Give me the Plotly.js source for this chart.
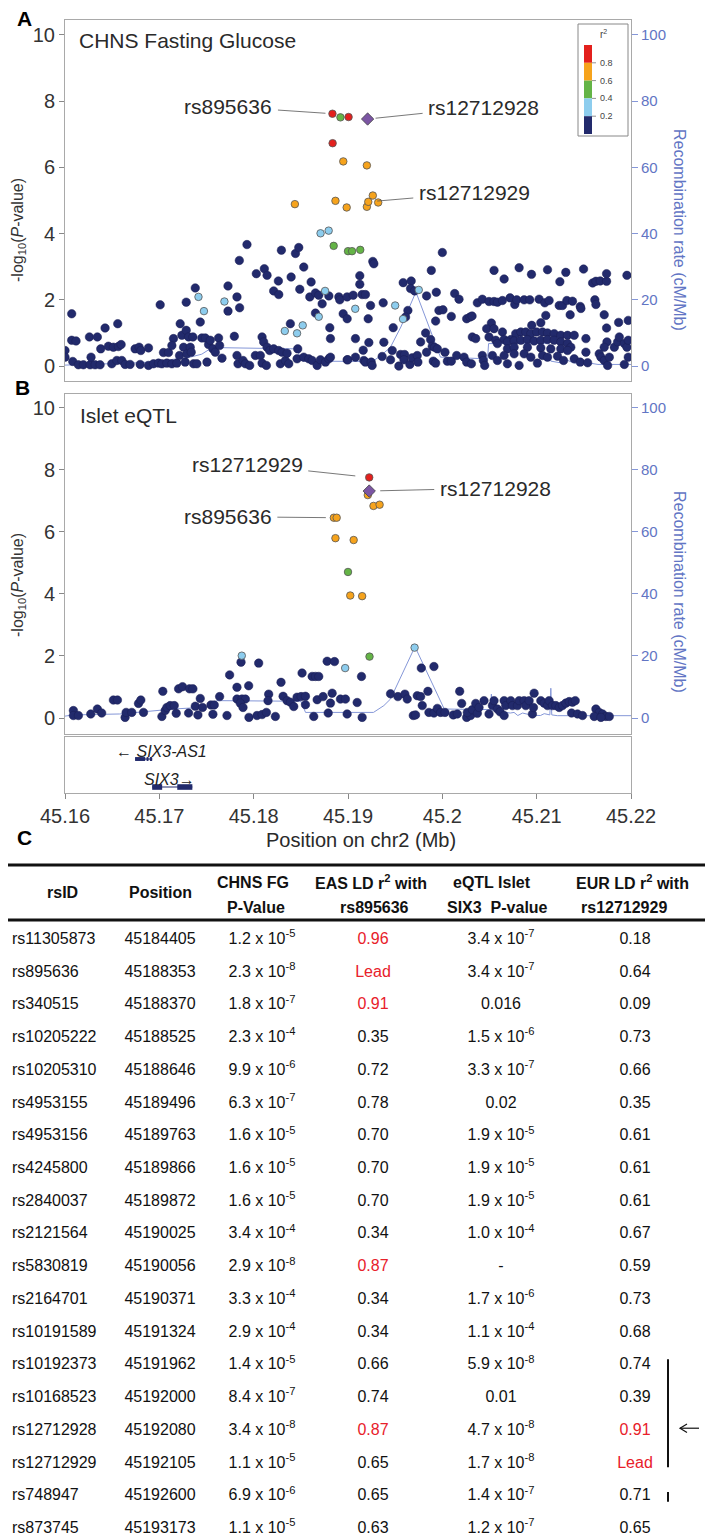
<!DOCTYPE html>
<html><head><meta charset="utf-8">
<script src="https://cdn.plot.ly/plotly-3.0.1.min.js"></script>
<style>html,body{margin:0;padding:0;background:#fff;}#chart{width:705px;height:1538px;}</style>
</head><body><div id="chart"></div>
<script>
// ---------------- Panel A: CHNS fasting glucose (r2 < 0.2 SNPs) ----------------
const fgNavyPos = [45.16000,45.16000,45.16071,45.16071,45.16117,45.16082,45.16142,45.16195,45.16266,45.16319,45.16372,45.16259,45.16343,45.16276,45.16379,45.16425,45.16460,45.16513,45.16566,45.16595,45.16496,45.16549,45.16602,45.16637,45.16559,45.16690,45.16743,45.16786,45.16804,45.16797,45.16885,45.16885,45.16938,45.16991,45.17009,45.17044,45.17097,45.17027,45.17080,45.17133,45.17150,45.17133,45.17186,45.17221,45.17214,45.17239,45.17257,45.17274,45.17285,45.17285,45.17292,45.17310,45.17328,45.17338,45.17356,45.17381,45.17363,45.17398,45.17434,45.17451,45.17487,45.17505,45.17522,45.17540,45.17568,45.17593,45.17628,45.17639,45.17664,45.17728,45.17728,45.17823,45.17851,45.17848,45.17929,45.17795,45.17823,45.17834,45.17887,45.17912,45.17958,45.18018,45.18071,45.18089,45.18106,45.18142,45.18170,45.18089,45.18135,45.18028,45.18113,45.18142,45.18212,45.18266,45.18262,45.18294,45.18443,45.18478,45.18531,45.18397,45.18489,45.18609,45.18212,45.18266,45.18301,45.18283,45.18336,45.18354,45.18372,45.18389,45.18467,45.18460,45.18531,45.18584,45.18620,45.18673,45.18708,45.18761,45.18797,45.18814,45.18595,45.18655,45.18690,45.18797,45.18726,45.18655,45.18807,45.18814,45.18903,45.18913,45.18949,45.18991,45.18991,45.18991,45.20000,45.19263,45.19274,45.19883,45.19125,45.19125,45.19585,45.19670,45.19663,45.19706,45.19833,45.19936,45.19055,45.19150,45.19185,45.20131,45.20177,45.19239,45.19373,45.19214,45.19635,45.19610,45.19479,45.19964,45.20007,45.19929,45.20095,45.20258,45.20293,45.20315,45.19079,45.19221,45.19380,45.19161,45.19469,45.18998,45.19079,45.19168,45.19185,45.19246,45.19256,45.19362,45.19451,45.19539,45.19557,45.19600,45.19593,45.19656,45.19681,45.19734,45.19741,45.19770,45.19823,45.19876,45.19893,45.19918,45.19947,45.19833,45.19904,45.19929,45.20028,45.20053,45.20095,45.20152,45.20230,45.20258,45.20308,45.20424,45.20435,45.20449,45.20318,45.20354,45.20371,45.20424,45.20495,45.20548,45.20584,45.20637,45.20718,45.20768,45.20789,45.20867,45.20927,45.21026,45.21086,45.21132,45.21239,45.21274,45.21320,45.21380,45.21462,45.21469,45.21617,45.21628,45.20548,45.20655,45.20814,45.20945,45.21115,45.21246,45.21309,45.21497,45.21593,45.21628,45.21674,45.21741,45.21741,45.21957,45.21097,45.21044,45.20948,45.21355,45.21716,45.21869,45.21971,45.20520,45.21741,45.20470,45.20548,45.20637,45.20495,45.20566,45.20655,45.20725,45.20778,45.20832,45.20885,45.20938,45.21001,45.21062,45.21115,45.21186,45.21256,45.21327,45.21398,45.20584,45.20690,45.20761,45.20832,45.20902,45.20973,45.21044,45.21115,45.21186,45.21256,45.21327,45.21362,45.20690,45.20761,45.20902,45.21044,45.21150,45.21256,45.21327,45.21522,45.21522,45.20531,45.20584,45.20655,45.20690,45.20761,45.20814,45.20867,45.20938,45.21008,45.21062,45.21115,45.21221,45.21285,45.21398,45.21462,45.21540,45.21663,45.21681,45.21716,45.21752,45.21770,45.21823,45.21858,45.21876,45.21929,45.21957,45.21971,45.21929,45.21971,45.21745,45.21716];
const fgNavyLogP = [0.47,0.27,1.58,0.78,0.76,0.14,0.04,0.04,0.04,0.04,0.04,0.88,0.88,0.27,0.52,1.15,0.60,0.57,0.59,0.65,0.07,0.17,0.17,0.05,1.28,0.05,0.52,0.57,0.47,0.05,0.55,0.02,0.07,0.09,1.85,0.41,0.41,0.07,0.09,0.07,0.83,0.62,0.09,1.28,0.32,0.93,0.57,0.12,1.08,1.93,0.37,0.88,0.57,0.42,0.88,2.36,0.07,0.07,1.33,0.85,0.85,0.12,0.65,0.78,0.52,0.42,0.85,0.62,0.24,2.42,1.66,2.09,1.76,3.19,3.67,0.90,0.32,0.07,0.17,0.07,0.02,0.32,0.32,0.88,0.73,0.57,0.47,0.09,0.02,2.79,2.94,2.74,2.27,2.16,2.57,3.50,3.40,3.58,2.99,2.69,2.32,2.54,0.52,0.47,0.42,0.07,0.17,0.39,0.07,1.28,0.52,0.22,0.27,0.22,0.17,0.02,0.19,0.12,0.22,0.27,2.09,2.21,2.14,2.12,1.88,1.60,1.16,0.83,2.09,2.00,1.58,1.43,2.09,0.19,3.43,3.16,3.09,2.89,2.73,2.47,2.52,2.57,2.34,2.27,2.12,2.23,2.14,2.16,2.16,2.19,2.02,1.83,1.91,1.43,1.68,1.48,1.16,1.68,1.70,1.36,1.50,1.43,1.48,1.51,0.83,0.71,0.72,0.48,0.47,0.19,0.27,0.17,0.12,0.12,0.02,0.29,0.19,0.00,0.35,0.35,0.19,0.05,0.25,0.32,0.12,0.73,1.00,0.80,0.60,0.57,0.52,0.42,0.15,0.09,0.42,0.15,0.15,0.32,0.27,0.12,0.07,0.32,0.17,0.02,0.88,0.83,1.91,2.02,1.95,1.95,1.93,1.98,2.06,1.86,2.00,2.00,2.00,2.02,1.91,1.98,1.83,1.83,1.98,1.96,1.80,1.74,2.00,1.86,2.89,2.63,2.97,2.77,2.91,2.55,2.83,2.93,2.51,2.56,2.57,2.56,2.79,2.74,1.53,1.31,1.23,1.55,1.55,1.32,1.38,1.30,1.15,1.13,1.13,1.03,0.88,0.78,0.80,0.80,0.98,1.03,1.03,0.98,1.03,1.03,1.00,0.98,0.93,0.93,0.93,0.68,0.73,0.76,0.78,0.80,0.76,0.78,0.80,0.78,0.73,0.68,0.57,0.52,0.57,0.57,0.55,0.52,0.52,0.47,0.83,0.42,0.32,0.17,0.32,0.07,0.37,0.02,0.37,0.27,0.09,0.32,0.27,0.30,0.17,0.22,0.12,0.10,0.37,0.27,0.17,0.02,0.27,0.57,0.73,0.88,0.68,0.57,0.78,0.05,0.27,0.73,0.57];
// Panel A: SNPs in LD with the index (bins: 1 = 0.2-0.4, 2 = 0.4-0.6, 3 = 0.6-0.8, 4 = >0.8)
const fgLDPos = [45.17415,45.17473,45.17690,45.18757,45.19077,45.19500,45.19583,45.19750,45.18330,45.18460,45.18520,45.18690,45.18709,45.18795,45.18848,45.19000,45.19043,45.19130,45.18920,45.18437,45.18867,45.18986,45.19200,45.19215,45.19263,45.19320,45.18950,45.19200,45.18835,45.19006,45.18837];
const fgLDLogP = [2.09,1.66,1.95,2.27,1.73,1.83,1.42,2.30,1.06,0.99,1.23,1.49,4.01,4.09,3.63,3.47,3.47,3.51,7.51,4.89,4.99,4.79,4.81,4.96,5.15,4.94,6.18,6.06,7.62,7.52,6.73];
const fgLDBin = [1,1,1,1,1,1,1,1,1,1,1,1,1,1,2,2,2,2,2,3,3,3,3,3,3,3,3,3,4,4,4];
const fgLeadPos = [45.19208];
const fgLeadLogP = [7.46];

// ---------------- Panel B: Islet eQTL ----------------
const eqNavyPos = [45.16089,45.16089,45.16142,45.16273,45.16343,45.16389,45.16513,45.16556,45.16637,45.16648,45.16708,45.16779,45.16804,45.16832,45.17037,45.17027,45.17062,45.17080,45.17115,45.17158,45.17179,45.17204,45.17246,45.17320,45.17356,45.17310,45.17381,45.17409,45.17434,45.17458,45.17547,45.17582,45.17568,45.17639,45.17717,45.17745,45.17823,45.17866,45.17823,45.17876,45.17912,45.17858,45.17887,45.17947,45.17950,45.18035,45.18089,45.18135,45.18230,45.18053,45.18159,45.18152,45.18290,45.18312,45.18354,45.18390,45.18425,45.18460,45.18503,45.18549,45.18549,45.18513,45.18620,45.18655,45.18690,45.18637,45.18673,45.18736,45.18779,45.18857,45.18790,45.18814,45.18832,45.18920,45.18973,45.18991,45.19097,45.19143,45.19150,45.19451,45.19529,45.19603,45.19628,45.19734,45.19770,45.19777,45.19911,45.19847,45.19787,45.19692,45.19716,45.19858,45.19911,45.19947,45.19982,45.20028,45.20116,45.20159,45.20184,45.20205,45.20258,45.20300,45.20265,45.20318,45.20354,45.20371,45.20389,45.20442,45.20495,45.20531,45.20548,45.20584,45.20612,45.20655,45.20655,45.20672,45.20725,45.20743,45.20796,45.20814,45.20867,45.20885,45.20920,45.20955,45.20973,45.20966,45.21044,45.21079,45.21115,45.21132,45.21168,45.21203,45.21239,45.21274,45.21309,45.21345,45.21380,45.21409,45.21370,45.21433,45.21486,45.21628,45.21663,45.21699,45.21734,45.21770,45.21610,45.21681];
const eqNavyLogP = [0.24,0.08,0.08,0.13,0.29,0.16,0.58,0.58,0.02,0.18,0.18,0.47,0.58,0.18,0.86,0.05,0.24,0.34,0.40,0.40,0.15,0.94,1.01,0.94,0.94,0.16,0.38,0.10,0.63,0.34,0.42,0.42,0.12,0.69,0.08,1.39,0.99,1.80,0.61,0.61,0.61,0.48,0.34,1.04,0.02,0.08,0.11,0.18,0.05,1.77,0.77,0.56,1.15,0.70,0.56,0.51,0.37,0.67,0.69,0.70,0.43,1.45,1.34,1.34,1.34,0.05,0.59,0.69,1.83,1.82,0.16,0.48,0.80,0.61,0.61,0.13,0.50,1.34,0.02,0.78,0.69,0.77,0.61,0.72,0.69,1.61,1.66,0.86,0.40,0.08,0.10,0.18,0.16,0.31,0.18,0.18,0.10,0.13,0.86,0.47,0.02,0.08,0.18,0.27,0.47,0.15,0.34,0.56,0.13,0.40,0.56,0.29,0.20,0.08,0.56,0.40,0.56,0.40,0.40,0.56,0.56,0.40,0.56,0.13,0.80,0.34,0.56,0.48,0.40,0.56,0.40,0.40,0.34,0.40,0.48,0.53,0.51,0.56,0.16,0.13,0.08,0.29,0.18,0.13,0.05,0.05,0.05,0.02];
const eqLDPos = [45.17874,45.18970,45.19706,45.19000,45.19228,45.19210,45.19270,45.19335,45.18850,45.18880,45.18867,45.19060,45.19024,45.19150,45.19225];
const eqLDLogP = [2.01,1.61,2.27,4.71,1.98,7.19,6.84,6.88,6.46,6.46,5.80,5.74,3.95,3.93,7.76];
const eqLDBin = [1,1,1,2,2,3,3,3,3,3,3,3,3,3,4];
const eqLeadPos = [45.19225];
const eqLeadLogP = [7.32];

// ---------------- Recombination rate (cM/Mb) ----------------
const recAPos = [45.1600,45.1680,45.1730,45.1745,45.1756,45.1800,45.1845,45.1852,45.1926,45.1935,45.1945,45.1956,45.1972,45.1986,45.1998,45.2048,45.2049,45.2113,45.2115,45.2125,45.2132,45.2140,45.2150,45.2165,45.2200];
const recARate = [0.3,1.0,2.5,3.6,5.6,5.4,5.2,1.5,1.4,3.2,5.7,11.8,22.4,11.8,2.7,2.2,6.8,6.8,1.5,1.0,1.8,0.9,1.2,0.5,0.5];
const recBPos = [45.1600,45.1609,45.1658,45.1701,45.1715,45.1750,45.1761,45.1850,45.1855,45.1927,45.1938,45.1945,45.1971,45.2002,45.2051,45.2052,45.2053,45.2072,45.2076,45.2080,45.2085,45.2095,45.2104,45.2108,45.2114,45.2115,45.2116,45.2122,45.2200];
const recBRate = [0.6,1.0,1.3,2.4,2.9,3.5,5.6,5.4,1.8,1.8,4.0,6.1,23.0,2.9,2.7,7.7,2.4,1.6,1.8,0.8,1.6,0.9,0.8,1.4,1.0,9.6,1.0,0.75,0.75];

// ---------------- Genes ----------------
const geneNames = ['SIX3-AS1','SIX3'];
const geneStrand = ['-','+'];
const geneStart = [45.16743,45.16924];
const geneEnd = [45.16924,45.17350];
const exonGene = [0,0,0,1,1];
const exonStart = [45.16743,45.16865,45.16900,45.16924,45.17190];
const exonEnd = [45.16850,45.16885,45.16924,45.17030,45.17350];

// ---------------- Axis ticks / legend ----------------
const posTicks = [45.16,45.17,45.18,45.19,45.20,45.21,45.22];
const posTickText = ['45.16','45.17','45.18','45.19','45.2','45.21','45.22'];
const logPTicks = [0,2,4,6,8,10];
const recTicks = [0,20,40,60,80,100];
const ldLegendLabels = ['0.8','0.6','0.4','0.2'];

// ---------------- Table C ----------------
const rsIds = ['rs11305873','rs895636','rs340515','rs10205222','rs10205310','rs4953155','rs4953156','rs4245800','rs2840037','rs2121564','rs5830819','rs2164701','rs10191589','rs10192373','rs10168523','rs12712928','rs12712929','rs748947','rs873745'];
const snpPositions = ['45184405','45188353','45188370','45188525','45188646','45189496','45189763','45189866','45189872','45190025','45190056','45190371','45191324','45191962','45192000','45192080','45192105','45192600','45193173'];
const chnsP = ['1.2e-5','2.3e-8','1.8e-7','2.3e-4','9.9e-6','6.3e-7','1.6e-5','1.6e-5','1.6e-5','3.4e-4','2.9e-8','3.3e-4','2.9e-4','1.4e-5','8.4e-7','3.4e-8','1.1e-5','6.9e-6','1.1e-5'];
const easLD = ['0.96','Lead','0.91','0.35','0.72','0.78','0.70','0.70','0.70','0.34','0.87','0.34','0.34','0.66','0.74','0.87','0.65','0.65','0.63'];
const eqtlP = ['3.4e-7','3.4e-7','0.016','1.5e-6','3.3e-7','0.02','1.9e-5','1.9e-5','1.9e-5','1.0e-4','-','1.7e-6','1.1e-4','5.9e-8','0.01','4.7e-8','1.7e-8','1.4e-7','1.2e-7'];
const eurLD = ['0.18','0.64','0.09','0.73','0.66','0.35','0.61','0.61','0.61','0.67','0.59','0.73','0.68','0.74','0.39','0.91','Lead','0.71','0.65'];

// ================= styling / layout =================
const FONT = 'Liberation Sans, Arial, Helvetica, sans-serif';
const NAVY = '#222a6c', LB = '#8dcdee', GREEN = '#64b446', ORANGE = '#f6a31c', RED = '#e3201d', PURPLE = '#7b55a3';
const BIN_COLORS = [NAVY, LB, GREEN, ORANGE, RED];
const REC_LINE = '#8597d8', REC_TXT = '#6275c4', BOX = '#a9a9a9', TXT = '#2a2a2a', TRED = '#e8202a';
const W = 705, H = 1538;
const px = v => v / W, py = v => 1 - v / H;
const dom = (top, bot) => [1 - bot / H, 1 - top / H];
const X0 = 65 / W, X1 = 631 / W;

function panelTraces(xa, yRec, yP, recPos, recRate, navyPos, navyP, ldPos, ldP, ldBin, leadPos, leadP) {
  const t = [];
  t.push({type:'scatter', mode:'lines', x:recPos, y:recRate, xaxis:xa, yaxis:yRec,
    line:{color:REC_LINE, width:1}, hoverinfo:'skip'});
  t.push({type:'scatter', mode:'markers', x:navyPos, y:navyP, xaxis:xa, yaxis:yP,
    marker:{color:NAVY, size:8.5, line:{color:'#1a1f55', width:0.5}}, hoverinfo:'skip'});
  for (let b = 1; b <= 4; b++) {
    const xs = [], ys = [];
    ldBin.forEach((v, i) => { if (v === b) { xs.push(ldPos[i]); ys.push(ldP[i]); } });
    t.push({type:'scatter', mode:'markers', x:xs, y:ys, xaxis:xa, yaxis:yP,
      marker:{color:BIN_COLORS[b], size:7.5, line:{color:'#555', width:0.8}}, hoverinfo:'skip'});
  }
  t.push({type:'scatter', mode:'markers', x:leadPos, y:leadP, xaxis:xa, yaxis:yP,
    marker:{color:PURPLE, size:9.5, symbol:'diamond', line:{color:'#444', width:0.8}}, hoverinfo:'skip'});
  return t;
}

const traces = [];
traces.push(...panelTraces('x', 'y', 'y2', recAPos, recARate, fgNavyPos, fgNavyLogP, fgLDPos, fgLDLogP, fgLDBin, fgLeadPos, fgLeadLogP));
traces.push(...panelTraces('x2', 'y3', 'y4', recBPos, recBRate, eqNavyPos, eqNavyLogP, eqLDPos, eqLDLogP, eqLDBin, eqLeadPos, eqLeadLogP));
traces.push({type:'scatter', mode:'markers', x:[geneStart[0]], y:[0.5], xaxis:'x3', yaxis:'y5', marker:{opacity:0}, hoverinfo:'skip'});

// table text
const rows = rsIds.map((_, i) => i);
const isRed = v => v === 'Lead' || parseFloat(v) > 0.8;
const fmtP = s => { if (s.indexOf('e') < 0) return s; const p = s.split('e'); return p[0] + ' x 10<sup>' + p[1] + '</sup>'; };
function textCol(x, texts, colors, pos) {
  return {type:'scatter', mode:'text', xaxis:'x4', yaxis:'y6', x:rows.map(() => x), y:rows,
    text:texts, textposition:pos, cliponaxis:false, hoverinfo:'skip',
    textfont:{family:FONT, size:16, color:colors}};
}
const black = rows.map(() => '#111');
traces.push(textCol(12, rsIds, black, 'middle right'));
traces.push(textCol(160, snpPositions, black, 'middle center'));
traces.push(textCol(262, chnsP.map(fmtP), black, 'middle center'));
traces.push(textCol(373, easLD, easLD.map(v => isRed(v) ? TRED : '#111'), 'middle center'));
traces.push(textCol(501, eqtlP.map(fmtP), black, 'middle center'));
traces.push(textCol(635, eurLD, eurLD.map(v => isRed(v) ? TRED : '#111'), 'middle center'));

// ---------- axes ----------
const baseX = {range:[45.16, 45.22], showgrid:false, zeroline:false, showline:true, mirror:true, linecolor:BOX, linewidth:1, fixedrange:true};
const recAxis = (d, r) => ({domain:d, range:r, side:'right', tickvals:recTicks, ticks:'outside', ticklen:6, tickcolor:REC_LINE,
  tickfont:{family:FONT, size:15, color:REC_TXT}, showline:true, mirror:true, linecolor:BOX, showgrid:false, zeroline:false, fixedrange:true});
const pAxis = (ov, anc, r) => ({overlaying:ov, anchor:anc, side:'left', range:r, tickvals:logPTicks, ticks:'outside', ticklen:5, tickcolor:'#888',
  tickfont:{family:FONT, size:20, color:'#333'}, showline:false, showgrid:false, zeroline:false, fixedrange:true});

const annotations = [];
const ann = (x, y, text, opts) => annotations.push(Object.assign({xref:'paper', yref:'paper', x:px(x), y:py(y), xanchor:'center', yanchor:'middle',
  text:text, showarrow:false, font:{family:FONT, size:21, color:TXT}}, opts || {}));
// panel letters
ann(24, 19, '<b>A</b>', {font:{family:FONT, size:21, color:'#000'}});
ann(22, 388, '<b>B</b>', {font:{family:FONT, size:21, color:'#000'}});
ann(24, 838, '<b>C</b>', {font:{family:FONT, size:21, color:'#000'}});
// panel titles
ann(77, 40, 'CHNS Fasting Glucose', {xanchor:'left'});
ann(78, 415, 'Islet eQTL', {xanchor:'left'});
// y-axis titles
const ylab = '-log<sub>10</sub>(<i>P</i>-value)';
ann(18, 230, ylab, {textangle:-90, font:{family:FONT, size:16, color:'#333'}});
ann(18, 585, ylab, {textangle:-90, font:{family:FONT, size:16, color:'#333'}});
ann(680, 230, 'Recombination rate (cM/Mb)', {textangle:90, font:{family:FONT, size:16, color:REC_TXT}});
ann(680, 592, 'Recombination rate (cM/Mb)', {textangle:90, font:{family:FONT, size:16, color:REC_TXT}});
ann(361, 840, 'Position on chr2 (Mb)', {font:{family:FONT, size:20, color:TXT}});
// SNP labels pointing at data points
function snpLabel(xr, yr, x, y, text, ax, ay, standoff) {
  annotations.push({xref:xr, yref:yr, x:x, y:y, text:text, showarrow:true, arrowhead:0, arrowwidth:0.8, arrowcolor:'#555',
    ax:ax, ay:ay, standoff:standoff, borderpad:5, font:{family:FONT, size:21, color:TXT}});
}
snpLabel('x', 'y2', fgLDPos[28], fgLDLogP[28], 'rs895636', -104, -7, 7);
snpLabel('x', 'y2', fgLeadPos[0], fgLeadLogP[0], 'rs12712928', 116, -12, 8);
snpLabel('x', 'y2', fgLDPos[23], fgLDLogP[23], 'rs12712929', 106, -9, 9);
snpLabel('x2', 'y4', eqLDPos[14], eqLDLogP[14], 'rs12712929', -122, -13, 14);
snpLabel('x2', 'y4', eqLeadPos[0], eqLeadLogP[0], 'rs12712928', 126, -3, 11);
snpLabel('x2', 'y4', eqLDPos[8], eqLDLogP[8], 'rs895636', -106, -1, 8);
// gene labels
annotations.push({xref:'x3', yref:'y5', x:45.1652, y:0.74, xanchor:'left', yanchor:'middle', showarrow:false,
  text:'\u2190 <i>' + geneNames[0] + '</i>', font:{family:FONT, size:16, color:'#222'}});
annotations.push({xref:'x3', yref:'y5', x:45.16812, y:0.25, xanchor:'left', yanchor:'middle', showarrow:false,
  text:'<i>' + geneNames[1] + '</i>\u2192', font:{family:FONT, size:16, color:'#222'}});
// r2 legend text
ann(603, 34, 'r<sup>2</sup>', {font:{family:FONT, size:10, color:'#444'}});
const legTop = 45, legSeg = 17.8;
ldLegendLabels.forEach((l, i) => ann(598, legTop + legSeg * (i + 1), l, {xanchor:'left', font:{family:FONT, size:9, color:'#444'}}));
// table header
const hdr = (x, y, t) => ann(x, y, '<b>' + t + '</b>', {font:{family:FONT, size:16, color:'#111'}});
hdr(62, 893, 'rsID');
hdr(160, 893, 'Position');
hdr(253, 882, 'CHNS FG');
hdr(256, 907, 'P-Value');
hdr(371, 882, 'EAS LD r<sup>2</sup> with');
hdr(374, 907, 'rs895636');
hdr(492, 882, 'eQTL Islet');
hdr(497, 907, 'SIX3  P-value');
hdr(632, 882, 'EUR LD r<sup>2</sup> with');
hdr(624, 907, 'rs12712929');

// ---------- shapes ----------
const shapes = [];
shapes.push({type:'rect', xref:'paper', yref:'paper', x0:px(578), x1:px(628), y0:py(136), y1:py(24), line:{color:'#888', width:1}, fillcolor:'#fff', layer:'below'});
[RED, ORANGE, GREEN, LB, NAVY].forEach((c, i) => shapes.push({type:'rect', xref:'paper', yref:'paper',
  x0:px(584), x1:px(592), y0:py(legTop + legSeg * (i + 1)), y1:py(legTop + legSeg * i), line:{width:0}, fillcolor:c}));
ldLegendLabels.forEach((l, i) => shapes.push({type:'line', xref:'paper', yref:'paper', x0:px(592), x1:px(596),
  y0:py(legTop + legSeg * (i + 1)), y1:py(legTop + legSeg * (i + 1)), line:{color:'#777', width:0.8}}));
const geneY = [0.607, 0.107], exonH = [0.035, 0.05];
geneNames.forEach((g, i) => shapes.push({type:'line', xref:'x3', yref:'y5', x0:geneStart[i], x1:geneEnd[i], y0:geneY[i], y1:geneY[i], line:{color:NAVY, width:1.2}}));
exonGene.forEach((g, i) => shapes.push({type:'rect', xref:'x3', yref:'y5', x0:exonStart[i], x1:exonEnd[i],
  y0:geneY[g] - exonH[g], y1:geneY[g] + exonH[g], line:{width:0}, fillcolor:NAVY}));
shapes.push({type:'line', xref:'paper', yref:'paper', x0:px(8), x1:1, y0:py(865), y1:py(865), line:{color:'#111', width:3}});
shapes.push({type:'line', xref:'paper', yref:'paper', x0:px(8), x1:1, y0:py(920), y1:py(920), line:{color:'#111', width:3}});
shapes.push({type:'line', xref:'x4', yref:'y6', x0:668, x1:668, y0:12.81, y1:16.11, line:{color:'#111', width:2}});
shapes.push({type:'line', xref:'x4', yref:'y6', x0:668, x1:668, y0:16.87, y1:17.17, line:{color:'#111', width:2}});
const arrowRow = rsIds.indexOf('rs12712928') - 0.08;
shapes.push({type:'line', xref:'x4', yref:'y6', x0:680, x1:699, y0:arrowRow, y1:arrowRow, line:{color:'#111', width:1.2}});
shapes.push({type:'path', xref:'x4', yref:'y6', path:'M 687 ' + (arrowRow - 0.13) + ' L 680 ' + arrowRow + ' L 687 ' + (arrowRow + 0.13), line:{color:'#111', width:1.2}});

const layout = {
  width:W, height:H, margin:{l:0, r:0, t:0, b:0}, paper_bgcolor:'#fff', plot_bgcolor:'rgba(0,0,0,0)',
  font:{family:FONT, color:TXT}, showlegend:false,
  xaxis:Object.assign({domain:[X0, X1], anchor:'y', showticklabels:false, ticks:''}, baseX),
  yaxis:Object.assign(recAxis(dom(20, 381), [-4.5, 104.5]), {anchor:'x'}),
  yaxis2:pAxis('y', 'x', [-0.45, 10.45]),
  xaxis2:Object.assign({domain:[X0, X1], anchor:'y3', showticklabels:false, ticks:''}, baseX),
  yaxis3:Object.assign(recAxis(dom(394, 734), [-5.16, 104.5]), {anchor:'x2'}),
  yaxis4:pAxis('y3', 'x2', [-0.516, 10.45]),
  xaxis3:Object.assign({domain:[X0, X1], anchor:'y5', tickvals:posTicks, ticktext:posTickText, ticks:'outside', ticklen:5, tickcolor:'#888',
    tickfont:{family:FONT, size:20, color:'#333'}}, baseX),
  yaxis5:{domain:dom(737, 793), anchor:'x3', range:[0, 1], showticklabels:false, ticks:'', showline:true, mirror:true, linecolor:BOX, showgrid:false, zeroline:false, fixedrange:true},
  xaxis4:{domain:[0, 1], anchor:'y6', range:[0, W], visible:false, fixedrange:true},
  yaxis6:{domain:dom(925, 1538), anchor:'x4', range:[18.275, -0.458], visible:false, fixedrange:true},
  annotations:annotations, shapes:shapes
};

Plotly.newPlot('chart', traces, layout, {displayModeBar:false, staticPlot:true});
</script></body></html>
